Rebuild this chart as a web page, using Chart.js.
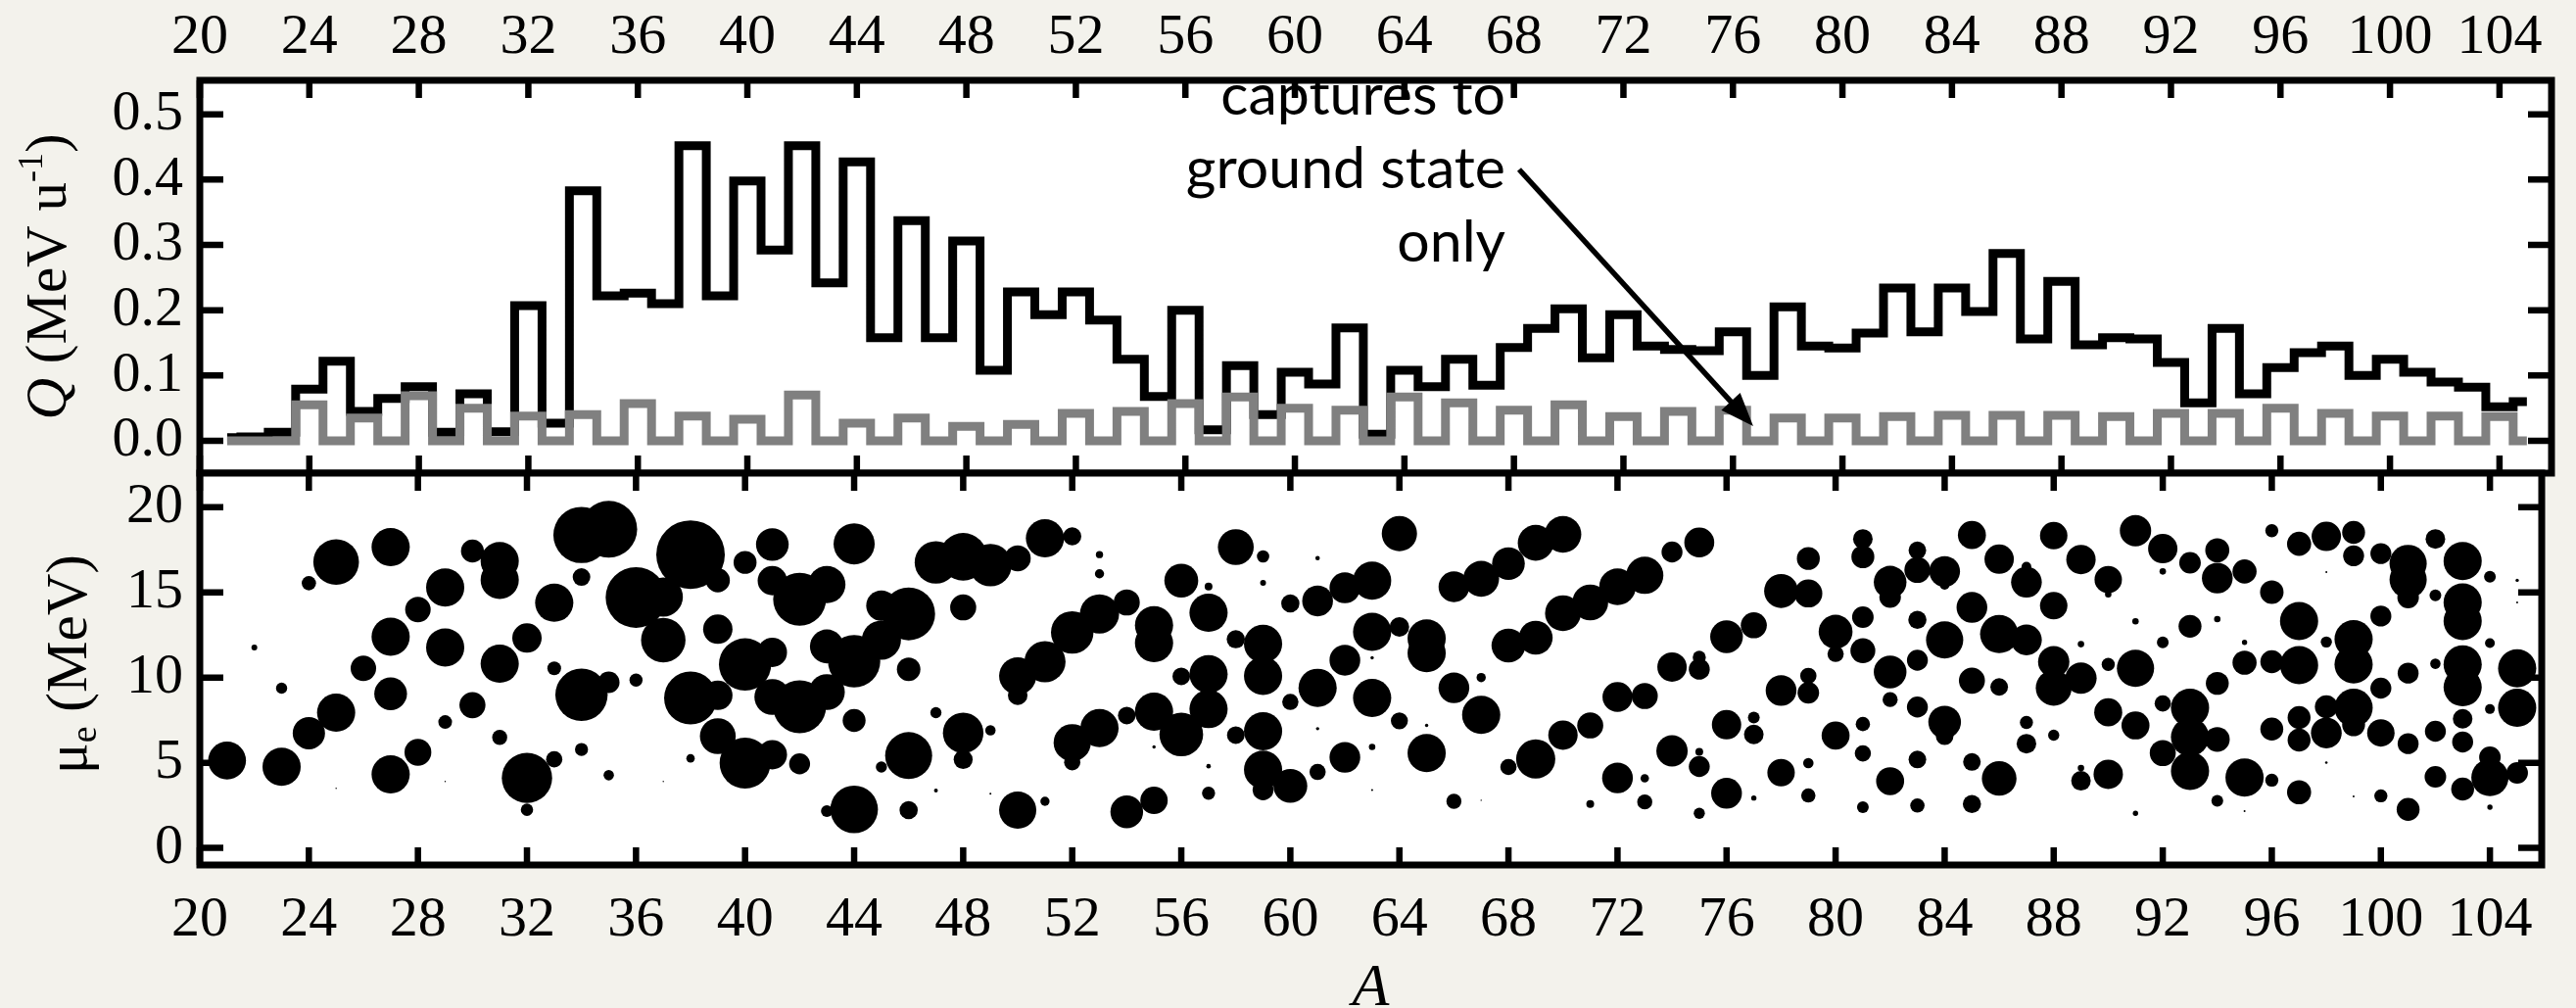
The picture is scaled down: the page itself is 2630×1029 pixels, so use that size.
<!DOCTYPE html>
<html><head><meta charset="utf-8">
<script src="https://cdn.jsdelivr.net/npm/chart.js@4.4.1/dist/chart.umd.min.js"></script>
<style>
html,body{margin:0;padding:0;background:#f3f2ec;}
#wrap{position:relative;width:2630px;height:1029px;overflow:hidden;background:#f3f2ec;}
canvas{position:absolute;left:0;top:0;}
</style></head><body>
<div id="wrap"><canvas id="cTop" width="2630" height="1029"></canvas><canvas id="cBot" width="2630" height="1029"></canvas></div>
<script>
// ---------------- DATA ----------------
const massNumbers = [21,22,23,24,25,26,27,28,29,30,31,32,33,34,35,36,37,38,39,40,41,42,43,44,45,46,47,48,49,50,
  51,52,53,54,55,56,57,58,59,60,61,62,63,64,65,66,67,68,69,70,71,72,73,74,75,76,77,78,79,80,
  81,82,83,84,85,86,87,88,89,90,91,92,93,94,95,96,97,98,99,100,101,102,103,104,105];

// Q (MeV/u), all captures (black)
const qAllStates = [
  0.005,0.006,0.013,0.079,0.122,0.045,0.065,0.083,0.013,0.072,
  0.014,0.207,0.027,0.383,0.222,0.226,0.210,0.452,0.222,0.398,
  0.292,0.452,0.242,0.427,0.158,0.337,0.158,0.306,0.108,0.228,
  0.193,0.228,0.185,0.125,0.068,0.200,0.017,0.115,0.040,0.105,
  0.087,0.173,0.010,0.108,0.083,0.125,0.085,0.143,0.172,0.202,
  0.127,0.193,0.145,0.140,0.138,0.167,0.100,0.205,0.145,0.142,
  0.165,0.234,0.167,0.234,0.198,0.287,0.156,0.244,0.147,0.158,
  0.156,0.120,0.058,0.172,0.072,0.112,0.135,0.145,0.100,0.125,
  0.105,0.090,0.082,0.052,0.060];

// Q (MeV/u), captures to ground state only (grey)
const qGroundState = [
  0,0,0,0.055,0,0.035,0,0.069,0,0.050,
  0,0.038,0,0.040,0,0.057,0,0.038,0,0.033,
  0,0.070,0,0.027,0,0.035,0,0.022,0,0.025,
  0,0.042,0,0.045,0,0.057,0,0.067,0,0.050,
  0,0.047,0,0.067,0,0.058,0,0.047,0,0.055,
  0,0.037,0,0.045,0,0.047,0,0.035,0,0.035,
  0,0.037,0,0.039,0,0.039,0,0.039,0,0.037,
  0,0.042,0,0.042,0,0.050,0,0.042,0,0.038,
  0,0.038,0,0.037,0];

// mu_e (MeV) of the captures, per mass number (same order as massNumbers)
const bubbleMu = [
  [5.13],[11.77],[9.38,4.76],[15.54,6.74],[16.78,7.94,3.5],[10.54],[17.66,12.4,9.05,4.32],[13.99,5.61],
  [15.29,11.77,7.39,3.9],[17.43,8.38],[16.84,15.73,10.81,6.49],[12.32,4.11,2.24],[14.39,10.54,5.2],
  [18.37,15.9,8.99,5.78],[18.71,9.72,4.27],[14.7,9.85],[14.73,12.2,3.9],[17.22,8.8,5.26],
  [15.71,12.84,8.96,6.56],[16.76,10.77,4.98],[17.81,15.69,11.48,8.86,5.47],[14.6,8.29,4.94],
  [15.46,11.83,9.15,2.16],[17.85,10.96,7.48,2.26],[14.22,12.2,4.75],[13.74,10.49,5.42,2.22],
  [16.76,7.94,3.37],[17.09,14.12,6.75,5.19],[16.6,6.91,3.18],[17.0,10.1,8.96,2.22],[18.18,10.93,2.74],
  [18.29,12.65,6.18,5.03],[17.22,16.09,13.74,7.04],[14.41,7.77,2.12],[13.07,12.02,8.0,5.93,2.79],
  [15.69,10.07,6.66],[15.35,13.8,10.2,8.15,4.8,3.21],[17.66,12.25,6.62],
  [17.11,15.56,11.98,10.1,6.85,4.59,3.41],[14.35,8.57,3.64],[17.01,14.5,9.4,7.0,4.46],[15.27,11.02,5.32],
  [15.69,12.69,11.16,8.8,5.93,3.4],[18.45,12.97,7.46],[12.3,11.44,7.19,5.57],[15.33,9.4,2.74],
  [15.8,10.0,7.81,2.8],[16.69,11.88,4.75],[17.91,12.34,5.22],[18.41,13.78,6.62],[14.41,7.19,2.58],
  [15.33,8.86,4.11],[16.0,8.92,4.09,2.7],[17.37,10.62,5.7],[17.93,11.19,10.49,5.64,4.78,2.03],
  [12.4,7.23,3.21],[13.07,7.65,6.66,2.93],[15.08,9.24,4.42],[16.99,14.94,10.1,9.11,4.98,3.08],
  [12.69,11.39,6.6],[18.14,17.09,13.55,11.58,7.27,5.55,2.39],[15.6,14.73,10.33,8.71,3.92],
  [17.47,16.32,13.39,11.02,8.27,5.19,2.49],[16.23,15.45,12.21,7.39,6.56],[18.37,14.12,9.82,5.05,2.58],
  [16.95,12.55,9.45,4.08],[16.51,15.6,12.21,7.37,6.12],[18.33,14.22,10.93,9.4,6.62],
  [16.93,11.96,9.97,4.69,3.94],[15.75,14.89,10.77,7.96,4.32],[18.62,13.3,10.54,7.19,2.03],
  [17.57,16.23,12.07,8.48,5.57],[16.74,13.01,8.23,6.51,4.52],[17.47,15.84,13.43,9.66,6.37,2.77],
  [16.23,12.07,10.87,4.13,2.16],[18.62,15.02,10.93,6.98,3.98],[17.85,13.32,10.73,7.65,6.33,3.27],
  [18.29,16.19,12.09,8.29,6.75,5.01],[18.52,17.15,12.25,10.77,8.23,7.23,3.02],
  [17.28,13.61,9.38,6.75,3.06],[16.7,15.75,14.7,10.26,6.12,2.26],[18.14,14.83,10.81,6.85,4.17],
  [16.84,14.41,13.32,10.77,9.43,7.58,6.22,3.46],[15.92,12.02,8.15,5.32,4.13,2.39],
  [15.71,14.41,10.54,8.23,4.4]];

// relative strength of each capture (bubble magnitude), same layout as bubbleMu
const bubbleStrength = [
  [19.3],[3],[5.7,19.5],[7.3,16.5],[23.3,19.5,0.7],[13],[19.5,19.5,16.7,19.5],[13,13.7],
  [19.5,19.5,7,0.7],[11.7,13.3],[19.5,19.5,19.5,7.7],[15,25.7,6.3],[19.5,7,8.3],
  [28.7,9,26.7,6.7],[29,11,5.3],[31,6.7],[20,22.7,0.7],[35,27,4.3],
  [12.3,15,15,18.3],[11.7,26.7,26],[16.7,15,15,18.3,15],[27,27,10.7],
  [19,17.3,18.3,6],[21,26.7,11.7,24.3],[15.5,20,5.7],[27,12,24,9.3],
  [21.7,5.7,2],[24.3,13.3,20.7,9.7],[21.7,5.3,1],[13.3,19,10,19],[19.5,21,4.7],
  [9.3,21.7,19,8.3],[3.7,4.7,20,19.5],[13.3,9,16.7],[19.5,19.5,19.5,1.7,14],
  [17.3,9,22.3],[4,19.5,19.5,19.5,2.3,6.7],[18.3,9.3,9],
  [6.3,3,19.5,19.5,19.5,19.5,10.7],[9.3,8.3,17.3],[2.3,15.7,19.5,1.7,8.3],[15.7,15.7,15.7],
  [19.5,19.5,1.7,19.5,3.3,1],[18,10,8.7],[19.5,19.5,1.7,19.5],[15.7,15.7,7.7],
  [18.3,4.7,19.5,0.7],[16.7,17.3,8.3],[18.3,17.3,20],[18.7,18.3,15],[18.3,13.3,4],
  [18.7,15.3,15.7],[19,13.3,4.3,7.7],[10.7,15,16],[15.3,6.7,10.7,4,10.7,5.7],
  [16.7,15,15.7],[13.3,6,10,2.7],[17.3,15.7,14],[11.7,14.3,8.3,11,5.3,7.3],
  [17.3,8.3,14.3],[10,11.7,11,12.7,7.3,8.3,6],[16.7,11,16.7,7.7,14.3],
  [9,13.3,9.3,10.7,10.7,9,7.3],[15.7,5,19,16.7,9],[14.3,15.7,13.3,9,9.3],
  [15,19.5,9,17.7],[5,15.7,15.7,6.7,10],[14,14,16,18.3,5.7],
  [15,3.3,16,3.3,10],[14,3.3,6.7,14.3,15],[16,3.3,19,14.3,2.7],
  [15,3.3,6,8.3,13.3],[11,11.7,19.5,19.5,19.5],[12.3,15.7,3.3,11.7,12.7,6],
  [12.3,2.7,12.3,19.5,1],[6.7,12,11.7,11.7,6.7],[12.3,19.5,19.5,11.7,11.7,12.3],
  [15,1,5.7,11.7,15.7,1.3],[11.7,10.7,19.5,19.5,19.5,11.7,1],
  [10.7,10.7,10.7,14,6.7],[19,19,11,10.7,10.7,11.7],[10,6,5.3,10.7,11],
  [19.5,19.5,19.5,19.5,19.5,10,10.7,11.7],[6,5,5,11,19,2.7],
  [1.7,1,19.5,19.5,11]];

// tick labels
const xTicks = [20,24,28,32,36,40,44,48,52,56,60,64,68,72,76,80,84,88,92,96,100,104];
const qTicks = [0.0,0.1,0.2,0.3,0.4,0.5];
const muTicks = [0,5,10,15,20];

// annotation (data coordinates of the top panel)
const annotLines = ['captures to','ground state','only'];
const annotTextA = 67.69;
const annotTextQ = [0.4995, 0.3874, 0.275];
const arrowFrom = [68.19, 0.4155];
const arrowTo = [76.74, 0.0225];

// ---------------- STYLE ----------------
const X_MIN = 20, X_MAX = 105.9;
const SERIF = '"Liberation Serif", "Times New Roman", serif';
const TICK_FONT = {family: SERIF, size: 58};
const FRAME_W = 7, TICK_W = 6.5, X_TICK_LEN = 18, Y_TICK_LEN = 24;
const BUBBLE_SCALE = 1;

Chart.defaults.font.family = SERIF;
Chart.defaults.color = '#000';

function drawRotatedRich(ctx, parts, baseX, centerY) {
  ctx.save();
  ctx.translate(baseX, centerY);
  ctx.rotate(-Math.PI / 2);
  ctx.textBaseline = 'alphabetic'; ctx.textAlign = 'left'; ctx.fillStyle = '#000';
  let total = 0;
  parts.forEach(p => { ctx.font = p.font; p.w = ctx.measureText(p.text).width; total += p.w; });
  let x = -total / 2;
  parts.forEach(p => { ctx.font = p.font; ctx.fillText(p.text, x, p.dy || 0); x += p.w; });
  ctx.restore();
}

function panelPlugin(cfg) {
  return {
    id: 'panel_' + cfg.name,
    beforeDraw(chart) {
      const {ctx, chartArea: a} = chart;
      ctx.save(); ctx.fillStyle = '#fff';
      ctx.fillRect(a.left, a.top, a.right - a.left, a.bottom - a.top);
      ctx.restore();
    },
    afterDatasetsDraw(chart) { if (cfg.annot) cfg.annot(chart); },
    afterDraw(chart) {
      const {ctx, chartArea: a, scales} = chart;
      const xs = scales.x, ys = scales.y;
      ctx.save();
      ctx.strokeStyle = '#000'; ctx.lineWidth = TICK_W; ctx.lineCap = 'butt';
      ctx.beginPath();
      xTicks.forEach(v => {
        const px = xs.getPixelForValue(v);
        ctx.moveTo(px, a.top); ctx.lineTo(px, a.top + X_TICK_LEN);
        ctx.moveTo(px, a.bottom); ctx.lineTo(px, a.bottom - X_TICK_LEN);
      });
      cfg.yTicks.forEach(v => {
        const py = ys.getPixelForValue(v);
        ctx.moveTo(a.left, py); ctx.lineTo(a.left + Y_TICK_LEN, py);
        ctx.moveTo(a.right, py); ctx.lineTo(a.right - Y_TICK_LEN, py);
      });
      ctx.stroke();
      ctx.lineWidth = FRAME_W; ctx.lineJoin = 'miter';
      ctx.strokeRect(a.left, a.top, a.right - a.left, a.bottom - a.top);
      ctx.restore();
      cfg.titles(chart);
    }
  };
}

function xScale(position, pad, height) {
  return {
    type: 'linear', position: position, min: X_MIN, max: X_MAX,
    afterBuildTicks: s => { s.ticks = xTicks.map(v => ({value: v})); },
    afterFit: s => { s.height = height; },
    ticks: {font: TICK_FONT, color: '#000', padding: pad, autoSkip: false, maxRotation: 0, minRotation: 0,
            callback: v => String(v)},
    grid: {display: false, drawTicks: false}, border: {display: false}
  };
}

// ---------------- TOP PANEL ----------------
const topAnnot = chart => {
  const {ctx, chartArea: a, scales: {x: xs, y: ys}} = chart;
  ctx.save();
  ctx.beginPath(); ctx.rect(a.left, a.top, a.right - a.left, a.bottom - a.top); ctx.clip();
  ctx.fillStyle = '#000'; ctx.font = '59px Lato, "Open Sans", sans-serif';
  ctx.textAlign = 'right'; ctx.textBaseline = 'alphabetic';
  const tx = xs.getPixelForValue(annotTextA);
  annotLines.forEach((t, i) => ctx.fillText(t, tx, ys.getPixelForValue(annotTextQ[i])));
  const x0 = xs.getPixelForValue(arrowFrom[0]), y0 = ys.getPixelForValue(arrowFrom[1]);
  const x1 = xs.getPixelForValue(arrowTo[0]), y1 = ys.getPixelForValue(arrowTo[1]);
  const len = Math.hypot(x1 - x0, y1 - y0), ux = (x1 - x0) / len, uy = (y1 - y0) / len;
  const headL = 34, headW = 13;
  ctx.strokeStyle = '#000'; ctx.lineWidth = 5.5; ctx.lineCap = 'butt';
  ctx.beginPath(); ctx.moveTo(x0, y0); ctx.lineTo(x1 - ux * headL * 0.7, y1 - uy * headL * 0.7); ctx.stroke();
  ctx.beginPath();
  ctx.moveTo(x1, y1);
  ctx.lineTo(x1 - ux * headL - uy * headW, y1 - uy * headL + ux * headW);
  ctx.lineTo(x1 - ux * headL + uy * headW, y1 - uy * headL - ux * headW);
  ctx.closePath(); ctx.fill();
  ctx.restore();
};

new Chart(document.getElementById('cTop'), {
  type: 'line',
  data: {
    datasets: [
      {label: 'all', data: massNumbers.map((a, i) => ({x: a, y: qAllStates[i]})),
       borderColor: '#000', borderWidth: 9, stepped: 'middle', pointRadius: 0, fill: false, order: 2,
       borderJoinStyle: 'miter', borderCapStyle: 'butt'},
      {label: 'ground', data: massNumbers.map((a, i) => ({x: a, y: qGroundState[i]})),
       borderColor: '#808080', borderWidth: 9, stepped: 'middle', pointRadius: 0, fill: false, order: 1,
       borderJoinStyle: 'miter', borderCapStyle: 'butt'}
    ]
  },
  options: {
    responsive: false, animation: false, devicePixelRatio: 1, events: [],
    layout: {padding: {left: 0, right: 25, top: 0, bottom: 546}},
    plugins: {legend: {display: false}, tooltip: {enabled: false}},
    scales: {
      x: xScale('top', 8, 82),
      y: {
        type: 'linear', position: 'left', min: -0.0495, max: 0.552,
        afterBuildTicks: s => { s.ticks = qTicks.map(v => ({value: v})); },
        afterFit: s => { s.width = 204; },
        ticks: {font: TICK_FONT, color: '#000', padding: 17, callback: v => Number(v).toFixed(1)},
        grid: {display: false, drawTicks: false}, border: {display: false}
      }
    }
  },
  plugins: [panelPlugin({
    name: 'top', yTicks: qTicks, annot: topAnnot,
    titles: chart => {
      const a = chart.chartArea;
      drawRotatedRich(chart.ctx, [
        {text: 'Q', font: 'italic 59px ' + SERIF},
        {text: ' (MeV u', font: '59px ' + SERIF},
        {text: '-1', font: '36px ' + SERIF, dy: -24},
        {text: ')', font: '59px ' + SERIF}
      ], 67, (a.top + a.bottom) / 2);
    }
  })]
});

// ---------------- BOTTOM PANEL ----------------
const bubbleData = [];
massNumbers.forEach((a, i) => {
  bubbleMu[i].forEach((mu, j) => bubbleData.push({x: a, y: mu, r: bubbleStrength[i][j] * BUBBLE_SCALE}));
});

new Chart(document.getElementById('cBot'), {
  type: 'bubble',
  data: {datasets: [{label: 'mu_e', data: bubbleData, backgroundColor: '#000', borderWidth: 0, hoverRadius: 0}]},
  options: {
    responsive: false, animation: false, devicePixelRatio: 1, events: [],
    layout: {padding: {left: 0, right: 25, top: 483, bottom: 0}},
    plugins: {legend: {display: false}, tooltip: {enabled: false}},
    scales: {
      x: xScale('bottom', 22, 146),
      y: {
        type: 'linear', position: 'left', min: -1, max: 22,
        afterBuildTicks: s => { s.ticks = muTicks.map(v => ({value: v})); },
        afterFit: s => { s.width = 204; },
        ticks: {font: TICK_FONT, color: '#000', padding: 17, callback: v => String(v)},
        grid: {display: false, drawTicks: false}, border: {display: false}
      }
    }
  },
  plugins: [panelPlugin({
    name: 'bot', yTicks: muTicks,
    titles: chart => {
      const {ctx, chartArea: a} = chart;
      drawRotatedRich(ctx, [
        {text: 'μ', font: '59px ' + SERIF},
        {text: 'e', font: '38px ' + SERIF, dy: 10},
        {text: ' (MeV)', font: '59px ' + SERIF}
      ], 88, (a.top + a.bottom) / 2 - 5);
      ctx.save();
      ctx.fillStyle = '#000'; ctx.font = 'italic 62px ' + SERIF;
      ctx.textAlign = 'center'; ctx.textBaseline = 'alphabetic';
      ctx.fillText('A', (a.left + a.right) / 2, 1026);
      ctx.restore();
    }
  })]
});
</script>
</body></html>
